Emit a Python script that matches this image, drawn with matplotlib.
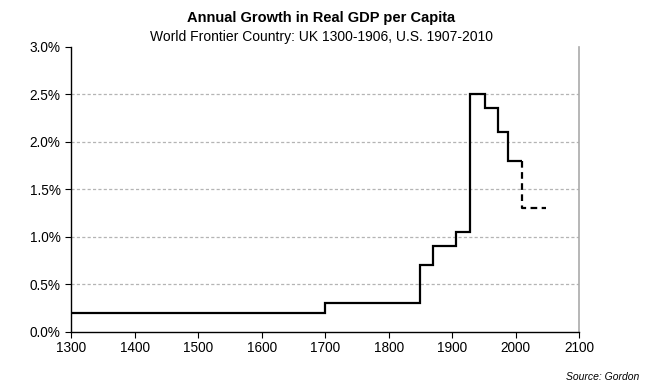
import numpy as np
import matplotlib.pyplot as plt

plt.rcParams['font.family'] = ['Liberation Sans', 'DejaVu Sans']

# step edges (years) and growth rates (%) for each period
edges = [1300, 1700, 1850, 1870, 1906, 1928, 1951, 1972, 1988, 2010]
rates = [0.2, 0.3, 0.7, 0.9, 1.05, 2.5, 2.35, 2.1, 1.8]
# forecast period (dashed)
fc_edges = [2010, 2048]
fc_rate = 1.3

xticks = [1300, 1400, 1500, 1600, 1700, 1800, 1900, 2000, 2100]
yticks = [0.0, 0.5, 1.0, 1.5, 2.0, 2.5, 3.0]

fig = plt.figure(figsize=(6.49, 3.87), dpi=100)
ax = fig.add_axes([0.1094, 0.1429, 0.7832, 0.7364])

ax.stairs(rates, edges, color='black', lw=1.6, baseline=None)
ax.plot([fc_edges[0], fc_edges[0], fc_edges[1]], [rates[-1], fc_rate, fc_rate],
        color='black', lw=1.6, ls=(0, (3, 2)))

ax.set_xlim(1300, 2100)
ax.set_ylim(0, 3.0)
ax.set_xticks(xticks)
ax.set_yticks(yticks)
ax.set_yticklabels(['%.1f%%' % v for v in yticks])
ax.tick_params(labelsize=9.8, direction='out', length=4, width=0.8, colors='black')
ax.tick_params(axis='x', pad=3)

for v in yticks[1:-1]:
    ax.axhline(v, color='#b4b4b4', lw=0.9, ls=(0, (2.5, 1.8)), zorder=0)

ax.spines['top'].set_visible(False)
ax.spines['right'].set_color('#aaaaaa')
ax.spines['right'].set_linewidth(1.2)
ax.spines['left'].set_linewidth(1.0)
ax.spines['bottom'].set_linewidth(1.0)

fig.text(0.495, 0.953, 'Annual Growth in Real GDP per Capita', ha='center', va='center',
         fontsize=10.5, fontweight='bold')
fig.text(0.495, 0.905, 'World Frontier Country: UK 1300-1906, U.S. 1907-2010', ha='center',
         va='center', fontsize=10)
fig.text(0.985, 0.025, 'Source: Gordon', ha='right', va='center', fontsize=7.5, style='italic')

fig.savefig('out.png', dpi=100)
